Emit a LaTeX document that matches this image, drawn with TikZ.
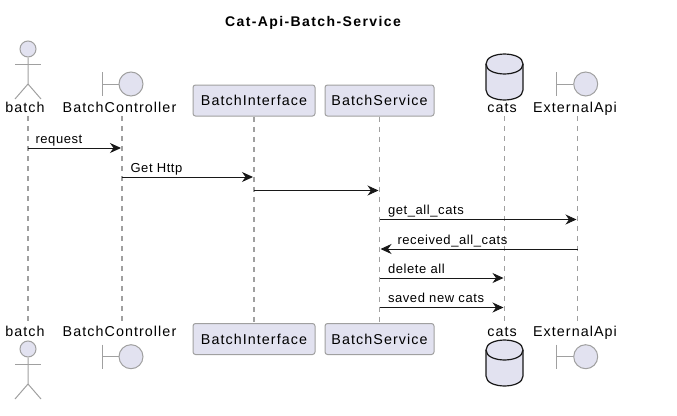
\documentclass[tikz,border=0pt]{standalone}
\usepackage{fontspec}
\usepackage{tikz}
\usetikzlibrary{arrows.meta}
\setmainfont[LetterSpace=7.5]{Liberation Sans}
\newfontfamily\msgfont[LetterSpace=4.5]{Liberation Sans}
\newfontfamily\titlefont[LetterSpace=10]{Liberation Sans}
\definecolor{partfill}{HTML}{E2E2F0}
\definecolor{partline}{HTML}{A0A0A0}
\definecolor{dark}{HTML}{181818}
\tikzset{
  partbox/.style={draw=partline,fill=partfill,line width=1pt,rounded corners=2.5pt,minimum height=31pt,inner xsep=0pt,font=\fontsize{14.3}{16}\selectfont},
  partlabel/.style={inner sep=0pt,text height=11pt,text depth=3pt,font=\fontsize{14.3}{16}\selectfont},
  partshape/.style={draw=partline,fill=partfill,line width=1pt},
  partstroke/.style={draw=partline,line width=1pt},
  dbshape/.style={draw=dark,fill=partfill,line width=1.2pt},
  lifeline/.style={draw=partline,line width=1.1pt,dash pattern=on 5pt off 5pt},
  msg/.style={draw=dark,line width=1pt,-{Stealth[length=11pt,width=10pt,inset=3.5pt]},shorten >=1pt},
  msgtxt/.style={inner sep=0pt,anchor=base west,yshift=5pt,font=\msgfont\fontsize{13}{15}\selectfont}
}
\begin{document}
\begin{tikzpicture}[x=1pt,y=-1pt]
  \useasboundingbox (0,0) rectangle (677,415);
  \node[font=\titlefont\bfseries\fontsize{14}{16}\selectfont,inner sep=0pt,anchor=base] (title) at (313,26) {Cat-Api-Batch-Service};

  % ends of the lifelines
  \coordinate (batchT) at (28,116);
  \coordinate (batchB) at (28,324);
  \coordinate (ctrlT) at (122,116);
  \coordinate (ctrlB) at (122,324);
  \coordinate (catsT) at (504.5,116);
  \coordinate (catsB) at (504.5,324);
  \coordinate (extT) at (577.5,116);
  \coordinate (extB) at (577.5,324);

  % boxes
  \node[partbox,minimum width=122pt] (ifaceTop) at (254,100.5) {BatchInterface};
  \node[partbox,minimum width=122pt] (ifaceBot) at (254,339) {BatchInterface};
  \node[partbox,minimum width=109pt] (serviceTop) at (379.5,100.5) {BatchService};
  \node[partbox,minimum width=109pt] (serviceBot) at (379.5,339) {BatchService};

  % names above and below the lifelines
  \node[partlabel,anchor=south] (batchTop) at (25,116) {batch};
  \node[partlabel,anchor=south] (ctrlTop) at (119.5,116) {BatchController};
  \node[partlabel,anchor=south] (catsTop) at (502,116) {cats};
  \node[partlabel,anchor=south] (extTop) at (575,116) {ExternalApi};
  \node[partlabel,anchor=south] (batchBot) at (25,340) {batch};
  \node[partlabel,anchor=south] (ctrlBot) at (119.5,340) {BatchController};
  \node[partlabel,anchor=south] (catsBot) at (502,340) {cats};
  \node[partlabel,anchor=south] (extBot) at (575,340) {ExternalApi};

  \draw[lifeline] (batchT) -- (batchB);
  \draw[lifeline] (ctrlT) -- (ctrlB);
  \draw[lifeline] (ifaceTop.south) -- (ifaceBot.north);
  \draw[lifeline] (serviceTop.south) -- (serviceBot.north);
  \draw[lifeline] (catsT) -- (catsB);
  \draw[lifeline] (extT) -- (extB);

  % actor
  \foreach \d in {0,300}{
    \begin{scope}[yshift=-\d pt]
      \node[partshape,circle,minimum size=16pt,inner sep=0pt] (head\d) at (28,49) {};
      \draw[partstroke] (head\d.south) -- (28,84) -- (15,99);
      \draw[partstroke] (28,84) -- (41,99);
      \draw[partstroke] (15,64.5) -- (41,64.5);
    \end{scope}
  }

  % boundaries
  \foreach \x/\yy/\n in {102/84/a,102/356.7/b,556.7/84/c,556.7/356.7/d}{
    \node[partshape,circle,minimum size=24pt,inner sep=0pt] (bound\n) at (\x+29,\yy) {};
    \draw[partstroke] (bound\n.west) -- (\x,\yy);
    \draw[partstroke] (\x,\yy-12) -- (\x,\yy+12);
  }

  % database
  \foreach \d in {0,286}{
    \begin{scope}[yshift=-\d pt]
      \draw[dbshape] (486,64) .. controls (486,50.7) and (523,50.7) .. (523,64) -- (523,90)
        .. controls (523,103.3) and (486,103.3) .. (486,90) -- cycle;
      \draw[dbshape,fill=none] (486,64) .. controls (486,77.3) and (523,77.3) .. (523,64);
    \end{scope}
  }

  % messages
  \coordinate (m1) at (0,148);
  \coordinate (m2) at (0,177);
  \coordinate (m3) at (0,190.5);
  \coordinate (m4) at (0,219.5);
  \coordinate (m5) at (0,249);
  \coordinate (m6) at (0,278);
  \coordinate (m7) at (0,307.5);
  \draw[msg] (batchT |- m1) -- (ctrlT |- m1) node[msgtxt,pos=0,xshift=7pt] {request};
  \draw[msg] (ctrlT |- m2) -- (ifaceTop.south |- m2) node[msgtxt,pos=0,xshift=8pt] {Get Http};
  \draw[msg] (ifaceTop.south |- m3) -- (serviceTop.south |- m3);
  \draw[msg] (serviceTop.south |- m4) -- (extT |- m4) node[msgtxt,pos=0,xshift=8pt] {get\_all\_cats};
  \draw[msg] (extT |- m5) -- (serviceTop.south |- m5) node[msgtxt,pos=1,xshift=17.5pt] {received\_all\_cats};
  \draw[msg] (serviceTop.south |- m6) -- (catsT |- m6) node[msgtxt,pos=0,xshift=8pt] {delete all};
  \draw[msg] (serviceTop.south |- m7) -- (catsT |- m7) node[msgtxt,pos=0,xshift=8pt] {saved new cats};
\end{tikzpicture}
\end{document}
